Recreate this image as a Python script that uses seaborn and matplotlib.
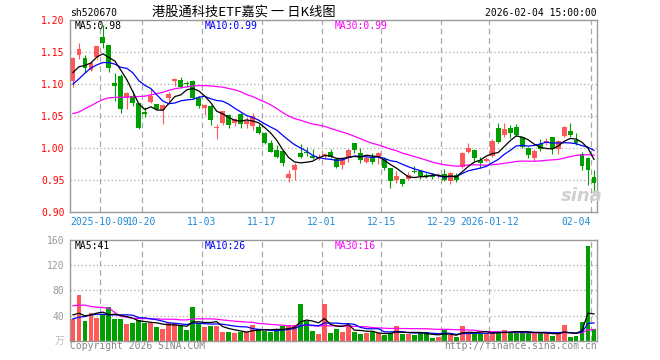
import matplotlib
matplotlib.use('Agg')
import matplotlib.pyplot as plt
import matplotlib.transforms as mtransforms
import seaborn as sns
import pandas as pd
import numpy as np

plt.rcParams['font.family'] = ['DejaVu Sans Mono']

CJK = ['Noto Sans CJK SC', 'DejaVu Sans']
FS = 7

# Daily K-line data for sh520670 (2025-09-24 .. 2026-02-04), 88 trading days
opens = [1.104, 1.146, 1.141, 1.122, 1.142, 1.1737, 1.161, 1.101, 1.113, 1.078,
         1.082, 1.070, 1.0563, 1.0717, 1.068, 1.0588, 1.0784, 1.105, 1.107, 1.102,
         1.104, 1.078, 1.063, 1.065, 1.0305, 1.0393, 1.0511, 1.0393, 1.0527, 1.0382,
         1.0341, 1.0331, 1.0228, 1.0084, 0.997, 0.9955, 0.9533, 0.9662, 0.9929, 0.9935,
         0.9878, 0.9842, 0.9878, 0.9945, 0.9826, 0.9739, 0.9842, 1.0084, 0.9929, 0.9775,
         0.9867, 0.9857, 0.9826, 0.9687, 0.9497, 0.9517, 0.9517, 0.9646, 0.9636, 0.9584,
         0.9584, 0.9558, 0.9594, 0.9481, 0.9584, 0.9702, 0.9945, 0.997, 0.9816, 0.979,
         0.9878, 1.0305, 1.0197, 1.0305, 1.0331, 1.0166, 0.9996, 0.9842, 1.0058, 1.0084,
         1.0176, 0.9981, 1.0192, 1.0269, 1.0125, 0.9909, 0.9842, 0.9543]
highs = [1.142, 1.164, 1.146, 1.135, 1.160, 1.192, 1.161, 1.1165, 1.1155, 1.087,
         1.0887, 1.070, 1.064, 1.092, 1.069, 1.069, 1.087, 1.110, 1.111, 1.105,
         1.106, 1.082, 1.068, 1.0666, 1.038, 1.058, 1.0527, 1.047, 1.0547, 1.0485,
         1.0547, 1.0372, 1.0254, 1.0125, 1.0048, 0.997, 0.9662, 0.9764, 1.0058, 1.001,
         0.9981, 0.9909, 0.992, 0.998, 0.9867, 0.9867, 0.998, 1.0084, 0.9996, 0.9893,
         0.9919, 0.9945, 0.9857, 0.9687, 0.9636, 0.9517, 0.962, 0.9723, 0.9651, 0.961,
         0.961, 0.961, 0.9672, 0.962, 0.961, 0.9945, 1.0084, 0.998, 0.9852, 0.9852,
         1.0135, 1.0393, 1.0383, 1.0357, 1.0372, 1.0176, 1.0022, 0.998, 1.0135, 1.015,
         1.0176, 1.0125, 1.0341, 1.0393, 1.0228, 0.9945, 0.9867, 0.9661]
lows = [1.095, 1.139, 1.118, 1.120, 1.139, 1.157, 1.118, 1.074, 1.054, 1.061,
        1.065, 1.029, 1.0485, 1.070, 1.060, 1.038, 1.074, 1.0975, 1.094, 1.095,
        1.077, 1.063, 1.051, 1.0357, 1.0135, 1.0357, 1.0305, 1.0342, 1.0305, 1.0305,
        1.028, 1.0212, 1.0063, 0.993, 0.984, 0.9723, 0.947, 0.9497, 0.984, 0.9878,
        0.9826, 0.9816, 0.984, 0.984, 0.9687, 0.9672, 0.9775, 0.9919, 0.9764, 0.9764,
        0.9754, 0.9754, 0.9651, 0.9378, 0.9455, 0.9414, 0.9507, 0.9605, 0.9517, 0.9533,
        0.9522, 0.9533, 0.9481, 0.943, 0.9466, 0.9687, 0.9929, 0.979, 0.9687, 0.9775,
        0.9857, 1.0084, 1.0166, 1.015, 1.0187, 0.9996, 0.9842, 0.979, 0.996, 1.0048,
        0.9909, 0.9909, 1.0176, 1.0176, 1.0048, 0.9661, 0.9425, 0.930]
closes = [1.140, 1.154, 1.125, 1.1325, 1.160, 1.1644, 1.125, 1.097, 1.061, 1.0856,
          1.070, 1.0305, 1.0537, 1.082, 1.061, 1.0676, 1.0836, 1.1078, 1.095, 1.1005,
          1.078, 1.065, 1.0666, 1.0444, 1.0331, 1.0578, 1.0367, 1.045, 1.0372, 1.0424,
          1.0496, 1.0228, 1.0084, 0.9945, 0.9867, 0.9764, 0.960, 0.9739, 0.9867, 0.9919,
          0.9842, 0.9867, 0.9909, 0.9857, 0.9702, 0.9842, 0.997, 0.997, 0.9816, 0.9842,
          0.9775, 0.9919, 0.9687, 0.9491, 0.9558, 0.943, 0.9584, 0.963, 0.9558, 0.9558,
          0.9548, 0.9584, 0.9507, 0.961, 0.9507, 0.9929, 1.0007, 0.9842, 0.9764, 0.9826,
          1.0115, 1.010, 1.030, 1.0228, 1.0202, 1.0022, 0.9893, 0.996, 0.9981, 1.011,
          0.9981, 1.0115, 1.0331, 1.0202, 1.0074, 0.9723, 0.965, 0.9455]
volumes = [34.7, 73, 31.5, 43.7, 36.8, 42, 53, 34.7, 34.7, 26.7,
           28.8, 33, 28.8, 28.8, 22.4, 18.7, 27.7, 27.7, 23.5, 17,
           53, 28.8, 22.4, 23.5, 23.5, 13.9, 13.9, 11.7, 14.4, 14.4,
           25, 18, 15.5, 13.9, 18, 23.5, 25, 25, 58.7, 32,
           15.5, 10.7, 58.7, 12.8, 18, 13.9, 25, 13.9, 10.7, 11.7,
           13.9, 11.7, 9, 11.7, 23.5, 10.7, 10.7, 9, 11.7, 14.4,
           4.8, 6.4, 17, 9, 6.4, 23.5, 11.7, 14.4, 11.7, 11.7,
           11.7, 13.9, 17, 12.8, 15.5, 12.8, 12.8, 11.7, 11.7, 12.8,
           7.5, 11.7, 25, 6.4, 7.5, 29.9, 150, 18.7]

# moving-average values before the window is full (they depend on earlier days)
ma5_head = [1.118, 1.127, 1.129, 1.133]
ma10_head = [1.100, 1.108, 1.117, 1.125, 1.130, 1.1335, 1.1335, 1.131, 1.126]
ma30_head = [1.0537, 1.0563, 1.0614, 1.066, 1.0712, 1.0758, 1.0784, 1.079, 1.0794, 1.0794,
             1.080, 1.0805, 1.081, 1.083, 1.085, 1.087, 1.090, 1.0925, 1.094, 1.0955,
             1.097, 1.0975, 1.0975, 1.097, 1.096, 1.095, 1.093, 1.091, 1.088]
vma5_head = [41, 43.7, 39.5, 41]
vma10_head = [34.7, 37.3, 38.4, 41, 42, 42, 41, 41, 41]
vma30_head = [55.5, 56.5, 56.5, 54.4, 53.3, 52.8, 51.7, 44.8, 38.4, 37.3,
              35.7, 35.2, 35.2, 34.7, 34.7, 34.1, 34.1, 34.1, 33, 33,
              34.7, 34.7, 34.7, 34.7, 34.1, 33, 32, 31, 30.4]

tick_idx = [5, 12, 22, 32, 42, 52, 62, 70, 87]
tick_labels = ['2025-10-09', '10-20', '11-03', '11-17', '12-01', '12-15', '12-29', '2026-01-12', '02-04']

RED = '#FF5858'
GREEN = '#009F00'
GRID = '#A8A8A8'
FRAME = '#9A9A9A'
BLUE_TXT = '#1E8AD6'

df = pd.DataFrame({'open': opens, 'high': highs, 'low': lows, 'close': closes, 'volume': volumes})
df['idx'] = np.arange(len(df))
df['dir'] = np.where(df['close'] >= df['open'], 'up', 'down')


def moving_avg(series, n, head):
    ma = series.rolling(n).mean()
    ma.iloc[:len(head)] = head
    return ma


df['ma5'] = moving_avg(df['close'], 5, ma5_head)
df['ma10'] = moving_avg(df['close'], 10, ma10_head)
df['ma30'] = moving_avg(df['close'], 30, ma30_head)
df['vma5'] = moving_avg(df['volume'], 5, vma5_head)
df['vma10'] = moving_avg(df['volume'], 10, vma10_head)
df['vma30'] = moving_avg(df['volume'], 30, vma30_head)

W, H = 660, 360
fig = plt.figure(figsize=(6.6, 3.6), dpi=100)
ax1 = fig.add_axes([70 / W, 1 - 212 / H, 527 / W, 192 / H])
ax2 = fig.add_axes([70 / W, 1 - 340.7 / H, 527 / W, 100.7 / H])

grid_x = [i - 0.5 for i in tick_idx]

# ---- price panel ----
for y in [0.95, 1.00, 1.05, 1.10, 1.15]:
    ax1.axhline(y, color=GRID, lw=0.9, linestyle=(0, (1, 2)), zorder=0)
for gx in grid_x:
    ax1.axvline(gx, color=GRID, lw=0.9, linestyle=(0, (4.5, 3)), zorder=0)

colors = np.where(df['dir'] == 'up', RED, GREEN)
body_bottom = np.minimum(df['open'], df['close'])
body_h = np.maximum((df['close'] - df['open']).abs(), 0.0012)
ax1.vlines(df['idx'], df['low'], df['high'], colors=colors, lw=0.8, zorder=2)
ax1.bar(df['idx'], body_h, bottom=body_bottom, width=0.82, color=colors, linewidth=0, zorder=3)

sns.lineplot(data=df, x='idx', y='ma30', ax=ax1, color='#FF00FF', lw=0.9, zorder=4)
sns.lineplot(data=df, x='idx', y='ma10', ax=ax1, color='#0000FF', lw=0.9, zorder=4)
sns.lineplot(data=df, x='idx', y='ma5', ax=ax1, color='black', lw=0.9, zorder=4)

ax1.set_xlim(-0.5, len(df) - 0.5)
ax1.set_ylim(0.90, 1.20)
yt = np.arange(0.90, 1.201, 0.05)
ax1.set_yticks(yt)
ax1.set_yticklabels([f'{v:.2f}' for v in yt])
ax1.tick_params(axis='y', length=0, pad=4, labelcolor='red', labelsize=FS)
ax1.set_xticks([])
ax1.set_xlabel('')
ax1.set_ylabel('')

# date labels under the price panel
trans = mtransforms.blended_transform_factory(ax1.transData, fig.transFigure)
for k, (gx, lab) in enumerate(zip(grid_x, tick_labels)):
    if k == 0:
        xpos, ha = -0.5, 'left'
    elif k == len(grid_x) - 1:
        xpos, ha = gx, 'right'
    else:
        xpos, ha = gx, 'center'
    ax1.text(xpos, 1 - 222 / H, lab, transform=trans, ha=ha, va='center',
             fontsize=FS, color=BLUE_TXT)

# ---- volume panel ----
for y in [40, 80, 120]:
    ax2.axhline(y, color=GRID, lw=0.9, linestyle=(0, (1, 2)), zorder=0)
for gx in grid_x:
    ax2.axvline(gx, color=GRID, lw=0.9, linestyle=(0, (4.5, 3)), zorder=0)

sns.barplot(data=df, x='idx', y='volume', hue='dir', palette={'up': RED, 'down': GREEN},
            dodge=False, native_scale=True, width=0.82, saturation=1, legend=False,
            linewidth=0, ax=ax2, zorder=2)
sns.lineplot(data=df, x='idx', y='vma30', ax=ax2, color='#FF00FF', lw=0.9, zorder=4)
sns.lineplot(data=df, x='idx', y='vma10', ax=ax2, color='#0000FF', lw=0.9, zorder=4)
sns.lineplot(data=df, x='idx', y='vma5', ax=ax2, color='black', lw=0.9, zorder=4)

ax2.set_xlim(-0.5, len(df) - 0.5)
ax2.set_ylim(0, 160)
ax2.set_yticks([40, 80, 120, 160])
ax2.tick_params(axis='y', length=0, pad=4, labelcolor='#999999', labelsize=FS)
ax2.set_xticks([])
ax2.set_xlabel('')
ax2.set_ylabel('')

for ax in (ax1, ax2):
    for s in ax.spines.values():
        s.set_color(FRAME)
        s.set_linewidth(1.0)

# ---- texts ----
fig.text(70 / W, 1 - 13 / H, 'sh520670', ha='left', va='center', fontsize=FS)
fig.text(244 / W, 1 - 12.5 / H, '港股通科技ETF嘉实 一 日K线图', ha='center', va='center',
         fontsize=9.5, family=CJK)
fig.text(597 / W, 1 - 13 / H, '2026-02-04 15:00:00', ha='right', va='center', fontsize=FS)

fig.text(75 / W, 1 - 26 / H, 'MA5:0.98', ha='left', va='center', fontsize=FS, color='black')
fig.text(205 / W, 1 - 26 / H, 'MA10:0.99', ha='left', va='center', fontsize=FS, color='#0000FF')
fig.text(335 / W, 1 - 26 / H, 'MA30:0.99', ha='left', va='center', fontsize=FS, color='#FF00FF')

fig.text(75 / W, 1 - 246 / H, 'MA5:41', ha='left', va='center', fontsize=FS, color='black')
fig.text(205 / W, 1 - 246 / H, 'MA10:26', ha='left', va='center', fontsize=FS, color='#0000FF')
fig.text(335 / W, 1 - 246 / H, 'MA30:16', ha='left', va='center', fontsize=FS, color='#FF00FF')

fig.text(64 / W, 1 - 341 / H, '万', ha='right', va='center', fontsize=FS, color='#BBBBBB', family=CJK)
fig.text(70 / W, 1 - 346 / H, 'Copyright 2026 SINA.COM', ha='left', va='center', fontsize=FS, color='#888888')
fig.text(597 / W, 1 - 346 / H, 'http://finance.sina.com.cn', ha='right', va='center', fontsize=FS, color='#888888')

# sina watermark
fig.text(582 / W, 1 - 196 / H, 'sina', ha='center', va='center', fontsize=13, color='#D0D0D0',
         fontweight='bold', style='italic', family='DejaVu Sans')

fig.savefig('out.png', dpi=100, facecolor='white')
